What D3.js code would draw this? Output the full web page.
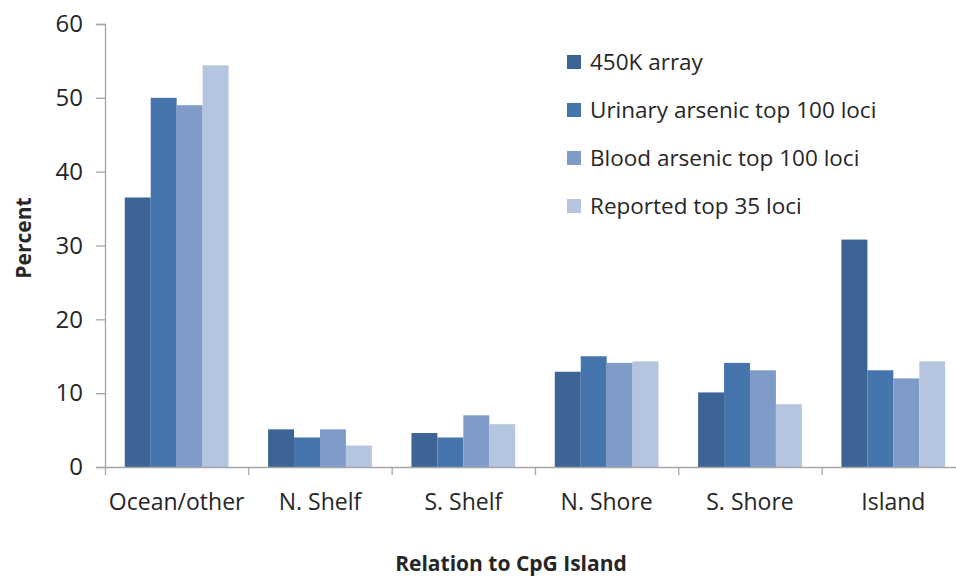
<!DOCTYPE html>
<html>
<head>
<meta charset="utf-8">
<script src="https://cdn.jsdelivr.net/npm/d3@7"></script>
<style>
  html, body { margin: 0; padding: 0; background: #fff; }
  #chart { width: 956px; height: 578px; overflow: hidden; }
  text { font-family: "Open Sans", "Noto Sans", sans-serif; fill: #262626; }
</style>
</head>
<body>
<div id="chart"></div>
<script>
  const categories = ["Ocean/other", "N. Shelf", "S. Shelf", "N. Shore", "S. Shore", "Island"];
  const seriesNames = ["450K array", "Urinary arsenic top 100 loci", "Blood arsenic top 100 loci", "Reported top 35 loci"];
  const array450k = [36.5, 5.1, 4.6, 12.9, 10.1, 30.8];
  const urinaryTop100 = [50.0, 4.0, 4.0, 15.0, 14.1, 13.1];
  const bloodTop100 = [49.0, 5.1, 7.0, 14.1, 13.1, 12.0];
  const reportedTop35 = [54.4, 2.9, 5.8, 14.3, 8.5, 14.3];
  const yTicks = [0, 10, 20, 30, 40, 50, 60];
  const colors = ["#3c6495", "#4674ad", "#7f9cc8", "#b5c5df"];

  const seriesValues = [array450k, urinaryTop100, bloodTop100, reportedTop35];
  const data = categories.map((category, i) => ({
    category,
    values: seriesNames.map((name, s) => ({ name, value: seriesValues[s][i] }))
  }));

  const width = 956;
  const height = 578;
  const plot = { left: 105, right: 965, top: 24, bottom: 467 };

  const svg = d3.select("#chart").append("svg")
    .attr("width", width)
    .attr("height", height);

  const x = d3.scaleBand().domain(categories).range([plot.left, plot.right])
    .paddingInner(0.276).paddingOuter(0.138);
  const xSeries = d3.scaleBand().domain(seriesNames).range([0, x.bandwidth()]);
  const y = d3.scaleLinear().domain([0, 60]).range([plot.bottom, plot.top]);
  const boundary = d3.scaleLinear().domain([0, categories.length]).range([plot.left, plot.right]);

  // bars
  const groups = svg.selectAll(".cat").data(data).join("g")
    .attr("class", "cat")
    .attr("transform", (d) => `translate(${x(d.category)},0)`);
  groups.selectAll("rect").data((d) => d.values).join("rect")
    .attr("x", (d) => xSeries(d.name))
    .attr("y", (d) => y(d.value))
    .attr("width", xSeries.bandwidth())
    .attr("height", (d) => y(0) - y(d.value))
    .attr("fill", (d, i) => colors[i]);

  // y axis
  const yAxis = svg.append("g")
    .attr("transform", `translate(${plot.left},0)`)
    .call(d3.axisLeft(y).tickValues(yTicks).tickSize(9).tickPadding(13));
  yAxis.select(".domain").attr("stroke", "#a6a6a6").attr("stroke-width", 1.3);
  yAxis.selectAll(".tick line").attr("stroke", "#a6a6a6").attr("stroke-width", 1.3);
  yAxis.selectAll(".tick text").attr("font-size", 24).attr("fill", "#262626")
    .attr("font-family", "Open Sans");

  // x axis (boundary ticks)
  const xAxis = svg.append("g")
    .attr("transform", `translate(0,${plot.bottom})`)
    .call(d3.axisBottom(boundary).tickValues(d3.range(categories.length + 1))
      .tickSize(8).tickSizeOuter(0).tickFormat(""));
  xAxis.select(".domain").attr("stroke", "#a6a6a6").attr("stroke-width", 1.3);
  xAxis.selectAll(".tick line").attr("stroke", "#a6a6a6").attr("stroke-width", 1.3);

  svg.selectAll(".xlabel").data(categories).join("text")
    .attr("class", "xlabel")
    .attr("x", (d) => x(d) + x.bandwidth() / 2)
    .attr("y", 510)
    .attr("text-anchor", "middle")
    .attr("font-size", 23)
    .text((d) => d);

  // axis titles
  svg.append("text")
    .attr("transform", "translate(31,238) rotate(-90)")
    .attr("text-anchor", "middle")
    .attr("font-size", 21)
    .attr("font-weight", "bold")
    .attr("fill", "#000")
    .text("Percent");
  svg.append("text")
    .attr("x", 511)
    .attr("y", 571)
    .attr("text-anchor", "middle")
    .attr("font-size", 21)
    .attr("font-weight", "bold")
    .attr("fill", "#000")
    .text("Relation to CpG Island");

  // legend
  const legend = svg.selectAll(".legend").data(seriesNames).join("g")
    .attr("class", "legend")
    .attr("transform", (d, i) => `translate(567,${62 + i * 48})`);
  legend.append("rect")
    .attr("x", 0).attr("y", -7)
    .attr("width", 14).attr("height", 14)
    .attr("fill", (d, i) => colors[i]);
  legend.append("text")
    .attr("x", 23)
    .attr("y", 0)
    .attr("dy", "0.35em")
    .attr("font-size", 22.5)
    .text((d) => d);
</script>
</body>
</html>
